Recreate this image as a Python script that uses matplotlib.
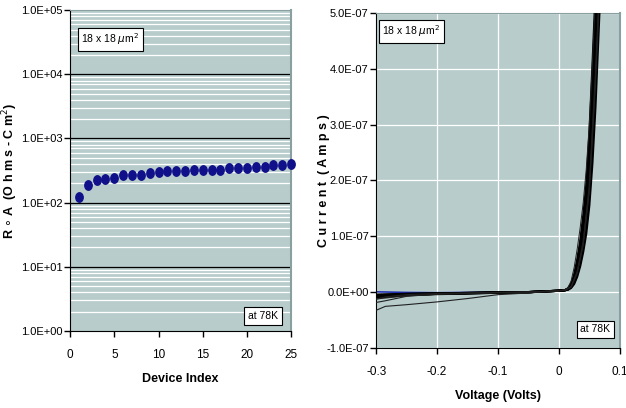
import math
import matplotlib
matplotlib.use("Agg")
import matplotlib.pyplot as plt
from matplotlib.path import Path
from matplotlib.transforms import Affine2D
from matplotlib.ticker import FixedLocator, FuncFormatter, NullFormatter

plt.rcParams['font.family'] = ['Liberation Sans Narrow', 'Liberation Sans', 'DejaVu Sans']

# left panel: R0A per device
device_index = list(range(1, 26))
r0a = [123, 190, 225, 232, 245, 265, 274, 274, 287, 297,
       313, 313, 313, 328, 328, 322, 328, 344, 344, 344,
       360, 365, 385, 385, 400]

# right panel: I-V curves (current in units of 1e-8 A)
volts = [-0.3, -0.25, -0.2, -0.15, -0.1, -0.05, 0.0, 0.01, 0.015, 0.02,
         0.025, 0.03, 0.035, 0.04, 0.045, 0.05, 0.055, 0.06, 0.065, 0.07]
iv_bundle = [
    [-0.6, -0.4, -0.3, -0.2, -0.1, -0.05, 0.2, 0.3, 0.6, 1.4, 3.0, 5.6, 9.0, 13.5, 19, 28, 40, 53, 66, 78],
    [-0.8, -0.5, -0.35, -0.25, -0.15, -0.05, 0.2, 0.3, 0.5, 1.1, 2.4, 4.6, 7.6, 11.5, 16.5, 24, 35, 48, 61, 73],
    [-1.0, -0.6, -0.4, -0.3, -0.15, -0.05, 0.2, 0.3, 0.45, 0.9, 1.8, 3.5, 5.8, 8.8, 13, 19, 28, 40, 53, 66],
    [-0.5, -0.35, -0.25, -0.2, -0.1, -0.05, 0.2, 0.3, 0.4, 0.7, 1.4, 2.7, 4.6, 7.2, 10.5, 15.5, 23, 33, 46, 59],
    [-0.7, -0.45, -0.3, -0.2, -0.12, -0.05, 0.2, 0.3, 0.55, 1.2, 2.6, 5.0, 8.2, 12.5, 17.5, 26, 37, 50, 63, 75],
    [-0.9, -0.55, -0.35, -0.25, -0.12, -0.05, 0.2, 0.3, 0.42, 0.8, 1.6, 3.1, 5.2, 8.0, 11.8, 17.5, 26, 37, 50, 63],
]
iv_thin = [-1.3, -0.7, -0.45, -0.3, -0.2, -0.05, 0.2, 0.35, 0.8, 1.9, 4.3, 7.6, 11.5, 16, 22, 30, 41, 53, 65, 77]
iv_blue = [0.0, -0.1, -0.15, -0.1, 0.0, -0.02, 0.2, 0.3, 0.5, 1.0, 2.2, 4.2, 6.8, 10, 14.5, 21, 31, 43, 55, 67]

leak_volts = [-0.3, -0.285, -0.25, -0.2, -0.15, -0.1, -0.05, 0.0, 0.01, 0.02,
              0.03, 0.04, 0.05, 0.06, 0.07]
leak_low = [-3.3, -2.6, -2.3, -1.8, -1.2, -0.5, -0.2, 0.2, 0.3, 0.9, 3.6, 9.0, 19, 39, 63]
leak_mid = [-1.9, -1.6, -0.8, -0.4, -0.25, -0.12, -0.05, 0.2, 0.3, 0.9, 3.4, 8.6, 18.5, 38, 62]
leak_small = [-1.3, -0.9, -0.5, -0.3, -0.2, -0.1, -0.05, 0.2, 0.3, 0.85, 3.3, 8.4, 18, 37, 61]

bg = '#b8cccc'
edge = '#8aa0a0'
tick_fs = 8
label_fs = 9
box_fs = 7.5
box = dict(boxstyle='square,pad=0.35', fc='white', ec='black', lw=0.8)

# tall oval marker like the original
circ = Path.unit_circle()
oval = Path(Affine2D().scale(0.78, 1.0).transform(circ.vertices), circ.codes)

fig = plt.figure(figsize=(6.26, 4.08), dpi=100)

# ---- left panel
ax1 = fig.add_axes([0.112, 0.189, 0.353, 0.786])
ax1.set_facecolor(bg)
ax1.set_yscale('log')
ax1.set_ylim(1, 1e5)
ax1.set_xlim(0, 25)
minors = [m * 10 ** d for d in range(0, 5) for m in range(2, 10)]
for y in minors:
    ax1.axhline(y, color='white', lw=0.9, zorder=0)
for y in [10, 100, 1000, 10000]:
    ax1.axhline(y, color='black', lw=0.9, zorder=1)
ax1.plot(device_index, r0a, linestyle='none', marker=oval, color='#10108a',
         markersize=6.8, zorder=3, clip_on=False)
ax1.yaxis.set_major_locator(FixedLocator([1, 10, 100, 1000, 10000, 100000]))
ax1.yaxis.set_minor_formatter(NullFormatter())
ax1.tick_params(axis='y', which='minor', length=0)
ax1.yaxis.set_major_formatter(FuncFormatter(lambda v, p: '1.0E+%02d' % round(math.log10(v))))
ax1.set_xticks([0, 5, 10, 15, 20, 25])
ax1.tick_params(labelsize=tick_fs, direction='out', length=4, width=1)
ax1.tick_params(axis='x', pad=9, labelsize=8.5)
ax1.tick_params(axis='y', pad=1.5)
for s in ['top', 'right']:
    ax1.spines[s].set_color(edge)
ax1.spines['right'].set_linewidth(1.5)
ax1.set_xlabel('Device Index', fontsize=label_fs, fontweight='bold', labelpad=9)
ax1.set_ylabel('R $\\circ$ A  (O h m s - C m$^2$)', fontsize=label_fs, fontweight='bold')
ax1.yaxis.set_label_coords(-0.228, 0.5)
ax1.text(0.05, 0.91, '18 x 18 $\\mu$m$^2$', transform=ax1.transAxes, fontsize=box_fs,
         va='center', bbox=box)
ax1.text(0.873, 0.046, 'at 78K', transform=ax1.transAxes, fontsize=box_fs, ha='center',
         va='center', bbox=box)

# ---- right panel
ax2 = fig.add_axes([0.601, 0.148, 0.389, 0.82])
ax2.set_facecolor(bg)
ax2.set_xlim(-0.3, 0.1)
ax2.set_ylim(-1e-7, 5e-7)
ax2.set_xticks([-0.3, -0.2, -0.1, 0, 0.1])
ax2.set_yticks([-1e-7, 0, 1e-7, 2e-7, 3e-7, 4e-7, 5e-7])
ax2.xaxis.set_major_formatter(FuncFormatter(lambda v, p: '0' if abs(v) < 1e-9 else ('%.1f' % v)))
ax2.yaxis.set_major_formatter(FuncFormatter(
    lambda v, p: '0.0E+00' if abs(v) < 1e-12 else '%.1fE-07' % (v / 1e-7)))
ax2.grid(True, color='white', lw=0.9)
ax2.set_axisbelow(True)
ax2.plot(volts, [c * 1e-8 for c in iv_blue], color='#2030b0', lw=1.2, zorder=2)
for cur in iv_bundle:
    ax2.plot(volts, [c * 1e-8 for c in cur], color='black', lw=1.6, zorder=3)
ax2.plot(volts, [c * 1e-8 for c in iv_thin], color='#202020', lw=0.7, zorder=3)
for cur in [leak_low, leak_mid, leak_small]:
    ax2.plot(leak_volts, [c * 1e-8 for c in cur], color='#202020', lw=0.8, zorder=3)
ax2.tick_params(labelsize=tick_fs, direction='out', length=4, width=1)
ax2.tick_params(axis='x', pad=9, labelsize=8.5)
ax2.tick_params(axis='y', pad=1.5)
for s in ['top', 'right']:
    ax2.spines[s].set_color(edge)
ax2.spines['right'].set_linewidth(1.5)
ax2.set_xlabel('Voltage (Volts)', fontsize=label_fs, fontweight='bold', labelpad=9)
ax2.set_ylabel('C u r r e n t  ( A m p s )', fontsize=label_fs, fontweight='bold')
ax2.yaxis.set_label_coords(-0.19, 0.5)
ax2.text(0.025, 0.945, '18 x 18 $\\mu$m$^2$', transform=ax2.transAxes, fontsize=box_fs,
         va='center', bbox=box)
ax2.text(0.90, 0.055, 'at 78K', transform=ax2.transAxes, fontsize=box_fs, ha='center',
         va='center', bbox=box)

fig.savefig('out.png', dpi=100)
